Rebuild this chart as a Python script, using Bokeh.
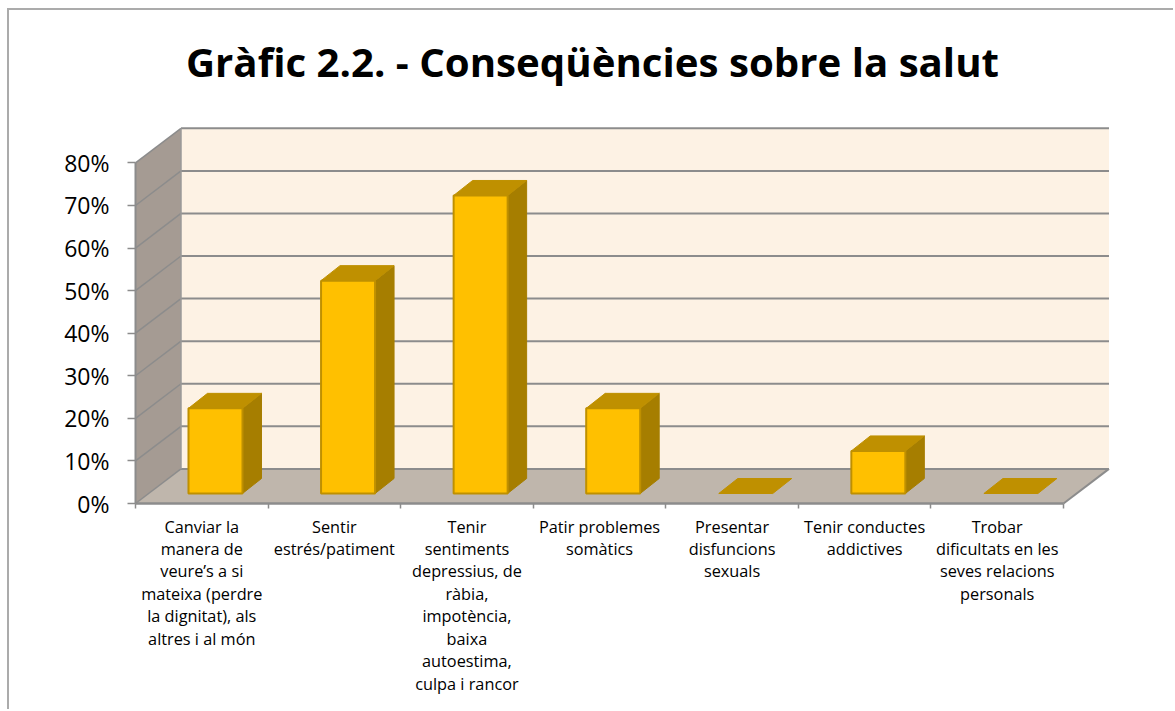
from bokeh.embed import file_html
from bokeh.resources import INLINE
from bokeh.plotting import figure
from bokeh.models import Range1d, LinearAxis, FixedTicker, Title

TITLE = "Gràfic 2.2. - Conseqüències sobre la salut"
categories = [
    "Canviar la\nmanera de\nveure’s a si\nmateixa (perdre\nla dignitat), als\naltres i al món",
    "Sentir\nestrés/patiment",
    "Tenir\nsentiments\ndepressius, de\nràbia,\nimpotència,\nbaixa\nautoestima,\nculpa i rancor",
    "Patir problemes\nsomàtics",
    "Presentar\ndisfuncions\nsexuals",
    "Tenir conductes\naddictives",
    "Trobar\ndificultats en les\nseves relacions\npersonals",
]
values = [20, 50, 70, 20, 0, 10, 0]
y_ticks = [0, 10, 20, 30, 40, 50, 60, 70, 80]

# layout constants (pixels on the page)
ORIG_X, ORIG_Y = 9, 10
W, FRAME_H = 1175 - ORIG_X, 618
X0_PX, Y0_PX = 135.0, 503.0
CAT_PX, PCT_PX = 132.57, 4.2575
n = len(categories)
dx_wall, dy_wall = 45.5 / CAT_PX, 34.6 / PCT_PX
bar_w = 54 / CAT_PX
bar_dx0, bar_dy0 = 13.7 / CAT_PX, 10 / PCT_PX
bar_dx, bar_dy = 19 / CAT_PX, 15 / PCT_PX
ymax = y_ticks[-1]

GRID = "#8C8C8C"
GOLD, TOPC, SIDE = "#FFC000", "#BF9000", "#A67E00"

x_range = Range1d((ORIG_X - X0_PX) / CAT_PX, (ORIG_X + W - X0_PX) / CAT_PX)
y_range = Range1d((Y0_PX - 711) / PCT_PX, (Y0_PX - 711 + FRAME_H) / PCT_PX)

p = figure(width=W, frame_width=W, frame_height=FRAME_H, x_range=x_range, y_range=y_range,
           output_backend="svg", toolbar_location=None, x_axis_location=None, y_axis_location=None,
           min_border=0, min_border_left=0, min_border_right=0, min_border_bottom=0, min_border_top=83,
           outline_line_color=None, background_fill_color="white", border_fill_color="white")
p.grid.visible = False
p.styles = {"margin-left": f"{ORIG_X}px", "margin-top": f"{ORIG_Y}px",
            "box-shadow": "-2px -2px 0 #ABABAB"}

p.title = Title(text=TITLE, align="center", text_font="Open Sans", text_font_style="bold",
                text_font_size="40.2px", text_color="#000000")

# walls and floor
p.patch([dx_wall, n + dx_wall, n + dx_wall, dx_wall], [dy_wall, dy_wall, ymax + dy_wall, ymax + dy_wall],
        fill_color="#FDF2E4", line_color=None)
p.patch([0, dx_wall, dx_wall, 0], [0, dy_wall, ymax + dy_wall, ymax],
        fill_color="#A59B93", line_color=None)
p.patch([0, n, n + dx_wall, dx_wall], [0, 0, dy_wall, dy_wall],
        fill_color="#BFB6AC", line_color=None)

# gridlines
p.multi_line([[dx_wall, n + dx_wall] for t in y_ticks], [[t + dy_wall, t + dy_wall] for t in y_ticks],
             line_color=GRID, line_width=2)
p.multi_line([[0, dx_wall] for t in y_ticks], [[t, t + dy_wall] for t in y_ticks],
             line_color=GRID, line_width=1.5)
p.line([dx_wall, dx_wall], [dy_wall, ymax + dy_wall], line_color="#9A9A9A", line_width=1.5)
p.line([n, n + dx_wall], [0, dy_wall], line_color=GRID, line_width=2)

# bars
for i, v in enumerate(values):
    left = i + 0.5 + bar_dx0 - bar_w / 2
    right = left + bar_w
    bottom = bar_dy0
    top = bottom + v
    if v > 0:
        p.patch([right, right + bar_dx, right + bar_dx, right],
                [bottom, bottom + bar_dy, top + bar_dy, top],
                fill_color=SIDE, line_color=SIDE, line_width=1)
    p.patch([left, right, right + bar_dx, left + bar_dx],
            [top, top, top + bar_dy, top + bar_dy],
            fill_color=TOPC, line_color=TOPC, line_width=1)
    if v > 0:
        p.quad(left=left, right=right, bottom=bottom, top=top,
               fill_color=GOLD, line_color=TOPC, line_width=2)

# axes
yax = LinearAxis(fixed_location=0, ticker=FixedTicker(ticks=y_ticks), bounds=(0, ymax),
                 major_label_overrides={t: f"{t}%" for t in y_ticks},
                 axis_line_color=GRID, axis_line_width=2,
                 major_tick_line_color=GRID, major_tick_line_width=1.5,
                 major_tick_in=0, major_tick_out=8, minor_tick_line_color=None,
                 major_label_standoff=18, major_label_text_font="Open Sans",
                 major_label_text_font_size="23px", major_label_text_color="#000000")
p.add_layout(yax, "left")

xticks = LinearAxis(fixed_location=0, ticker=FixedTicker(ticks=list(range(n + 1))), bounds=(0, n),
                    axis_line_color=GRID, axis_line_width=2.5,
                    major_tick_line_color=GRID, major_tick_line_width=1.5,
                    major_tick_in=0, major_tick_out=5, minor_tick_line_color=None,
                    major_label_text_color=None)
p.add_layout(xticks, "below")

centers = [i + 0.5 for i in range(n)]
xlabels = LinearAxis(fixed_location=0, ticker=FixedTicker(ticks=centers),
                     major_label_overrides=dict(zip(centers, categories)),
                     axis_line_color=None, major_tick_line_color=None, minor_tick_line_color=None,
                     major_tick_in=0, major_tick_out=0, major_label_standoff=12,
                     major_label_text_font="Open Sans", major_label_text_font_size="16.3px",
                     major_label_text_line_height=1.02,
                     major_label_text_color="#000000", major_label_text_align="center")
p.add_layout(xlabels, "below")

open("out.html", "w").write(file_html(p, INLINE))
